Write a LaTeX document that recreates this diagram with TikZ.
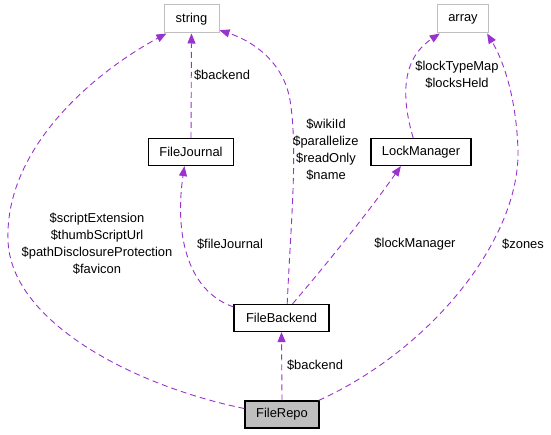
\documentclass[tikz,border=0pt]{standalone}
\usepackage{fontspec}
\setmainfont{Liberation Sans}
\usetikzlibrary{arrows.meta}
\definecolor{EdgePurple}{RGB}{154,50,205}
\definecolor{ExtGray}{RGB}{191,191,191}
\definecolor{RepoFill}{RGB}{191,191,191}

\begin{document}
\begin{tikzpicture}[x=1pt, y=-1pt,
    every node/.style={font=\fontsize{12.9}{17}\selectfont},
    cls/.style={draw, line width=1.2pt, minimum height=27pt, inner sep=0pt},
    ext/.style={draw=ExtGray, line width=1pt, minimum height=28pt, inner sep=0pt},
    rel/.style={-{Triangle[length=10pt, width=8pt]}, EdgePurple, line width=0.9pt,
                dash pattern=on 6pt off 4pt},
    lbl/.style={align=center, inner sep=0pt}
]
    \useasboundingbox (0,0) rectangle (551,435);
    % nodes
    \node[ext, minimum width=55pt] (string) at (191.5,19) {string};
    \node[ext, minimum width=51pt] (array) at (463,19) {array};
    \node[cls, minimum width=85pt] (journal) at (191,152) {FileJournal};
    \node[cls, minimum width=100pt] (lock) at (421,152) {LockManager};
    \node[cls, minimum width=95pt] (backend) at (281.5,318) {FileBackend};
    \node[cls, minimum width=74pt, fill=RepoFill] (repo) at (282,414.5) {FileRepo};
    % connectors
    \draw[rel] (repo.171) .. controls (130,385) and (10,320) .. (8,240)
                          .. controls (5,150) and (90,75) .. (string.-150);
    \draw[rel] (journal.north) -- (string.south);
    \draw[rel] (backend.167) .. controls (185,290) and (175,230) .. (journal.-115);
    \draw[rel] (backend.68) .. controls (291,220) and (298,150) .. (290,100)
                            .. controls (283,60) and (250,40) .. (string.-22);
    \draw[rel] (backend.52) .. controls (330,260) and (370,210) .. (lock.-145);
    \draw[rel] (lock.119) .. controls (402,100) and (400,60) .. (array.-148);
    \draw[rel] (repo.21) .. controls (430,350) and (520,240) .. (518,150)
                         .. controls (516,90) and (500,55) .. (array.-31);
    \draw[rel] (repo.north) -- (backend.south);
    % labels
    \node[lbl] (lblrepostr) at (97,244) {\$scriptExtension\\\$thumbScriptUrl\\\$pathDisclosureProtection\\\$favicon};
    \node[lbl] (lbljournal) at (222,75) {\$backend};
    \node[lbl] (lblfj) at (230,244) {\$fileJournal};
    \node[lbl] (lblbackstr) at (326,150) {\$wikiId\\\$parallelize\\\$readOnly\\\$name};
    \node[lbl] (lbllm) at (415,244) {\$lockManager};
    \node[lbl] (lbllock) at (457,75) {\$lockTypeMap\\\$locksHeld};
    \node[lbl] (lblzones) at (523,244) {\$zones};
    \node[lbl] (lblbackend) at (315,365) {\$backend};
\end{tikzpicture}
\end{document}
